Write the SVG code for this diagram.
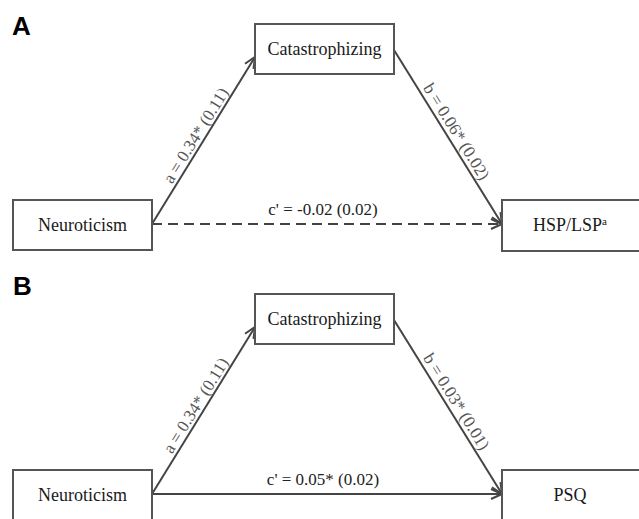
<svg xmlns="http://www.w3.org/2000/svg" width="639" height="519" viewBox="0 0 639 519">
<style>
.box{fill:#fff;stroke:#555;stroke-width:2}
.nt{font-family:"Liberation Serif","Times New Roman",serif;font-size:18px;fill:#1a1a1a;text-anchor:middle}
.lbl{font-family:"Liberation Serif","Times New Roman",serif;font-size:17px;fill:#222;text-anchor:middle}
.rl{font-family:"Liberation Serif","Times New Roman",serif;font-size:17px;fill:#555;text-anchor:middle}
.pl{font-family:"Liberation Sans",Arial,sans-serif;font-size:26px;font-weight:bold;fill:#000}
.ln{stroke:#444;stroke-width:2;fill:none;marker-end:url(#ah)}
.dash{stroke-dasharray:10,6}
</style>
<defs>
<marker id="ah" markerUnits="userSpaceOnUse" markerWidth="14" markerHeight="14" refX="12" refY="6" orient="auto" viewBox="0 0 14 12">
<path d="M1,1 L12,6 L1,11" fill="none" stroke="#444" stroke-width="2"/>
</marker>
</defs>
<rect width="639" height="519" fill="#fff"/>
<text class="pl" x="12" y="35">A</text>
<text class="pl" x="13" y="295">B</text>
<g id="connectors">
<line class="ln" x1="152" y1="224" x2="255" y2="57"/>
<line class="ln" x1="394" y1="50" x2="502" y2="224"/>
<line class="ln dash" x1="152" y1="224" x2="502" y2="224"/>
<line class="ln" x1="152" y1="494" x2="255" y2="327"/>
<line class="ln" x1="394" y1="320" x2="502" y2="494"/>
<line class="ln" x1="152" y1="494" x2="502" y2="494"/>
<text class="rl" transform="translate(200.6,138.4) rotate(-58.1)">a = 0.34* (0.11)</text>
<text class="rl" transform="translate(451.8,134.6) rotate(58.2)">b = 0.06* (0.02)</text>
<text class="lbl" x="323" y="215">c' = -0.02 (0.02)</text>
<text class="rl" transform="translate(200.6,408.4) rotate(-58.1)">a = 0.34* (0.11)</text>
<text class="rl" transform="translate(451.8,404.6) rotate(58.2)">b = 0.03* (0.01)</text>
<text class="lbl" x="323" y="485">c' = 0.05* (0.02)</text>
</g>
<g id="A-neuroticism"><rect class="box" x="13" y="200" width="139" height="50"/><text class="nt" x="82.5" y="231">Neuroticism</text></g>
<g id="A-catastrophizing"><rect class="box" x="255" y="24" width="139" height="50"/><text class="nt" x="324.5" y="55">Catastrophizing</text></g>
<g id="A-hsp"><rect class="box" x="502" y="200" width="150" height="51"/><text class="nt" x="570" y="231">HSP/LSP<tspan font-size="11" dy="-6">a</tspan></text></g>
<g id="B-neuroticism"><rect class="box" x="13" y="470" width="139" height="50"/><text class="nt" x="82.5" y="501">Neuroticism</text></g>
<g id="B-catastrophizing"><rect class="box" x="255" y="294" width="139" height="50"/><text class="nt" x="324.5" y="325">Catastrophizing</text></g>
<g id="B-psq"><rect class="box" x="502" y="470" width="150" height="51"/><text class="nt" x="570" y="501">PSQ</text></g>
</svg>
